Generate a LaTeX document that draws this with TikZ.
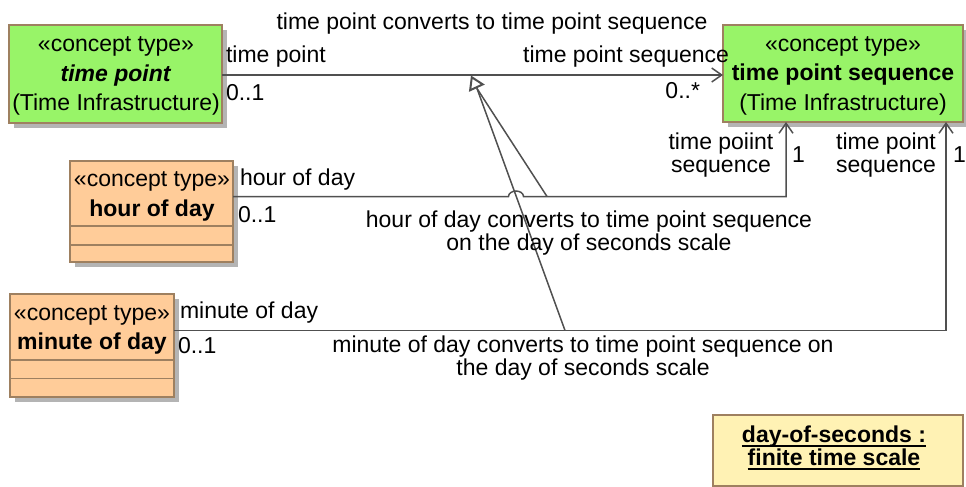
\documentclass[tikz,border=0pt]{standalone}
\usepackage{fontspec}
\setmainfont{Liberation Sans}
\usetikzlibrary{arrows.meta,shadows}
\definecolor{cgreen}{RGB}{152,244,104}
\definecolor{corange}{RGB}{255,204,153}
\definecolor{cyellow}{RGB}{255,242,180}
\definecolor{cborder}{RGB}{158,128,96}
\definecolor{cline}{RGB}{80,80,80}
\definecolor{cshadow}{RGB}{180,180,180}
\newcommand\myul[1]{\setbox0\hbox{#1}\rlap{\rule[-4.5pt]{\wd0}{2pt}}\box0}
\begin{document}
\begin{tikzpicture}[x=1pt,y=-1pt,
  every node/.style={font=\fontsize{23}{29.5}\selectfont, inner sep=0pt, outer sep=0pt, text=black},
  cbox/.style={draw=cborder, line width=1.5pt, rectangle, anchor=north west,
    drop shadow={shadow xshift=5pt, shadow yshift=-5pt, fill=cshadow, opacity=1}},
  lbl/.style={font=\fontsize{23}{23}\selectfont},
  assoc/.style={draw=cline, line width=1.5pt},
  nav/.style={-{Straight Barb[length=10pt,width=14pt,line width=1.5pt]}},
  gen/.style={draw=cline, line width=1.5pt, -{Triangle[open,length=14pt,width=17pt,line width=2pt]}},
  sep/.style={draw=cborder, line width=1.5pt}
]
\useasboundingbox (0,0) rectangle (966,487);

% classes
\node[cbox, fill=cgreen, minimum width=213, minimum height=98] (tp) at (9,25) {};
\node[align=center] (tpt) at (116,76) {«concept type»\\\textbf{\textit{time point}}\\(Time Infrastructure)};
\node[cbox, fill=cgreen, minimum width=240, minimum height=97] (tps) at (723,25) {};
\node[align=center] (tpst) at (843,75.5) {«concept type»\\\textbf{time point sequence}\\(Time Infrastructure)};

\node[cbox, fill=corange, minimum width=163, minimum height=101] (hod) at (70,161) {};
\node[align=center] (hodt) at (152,196.5) {«concept type»\\\textbf{hour of day}};
\draw[sep] ([yshift=-65pt]hod.north west) -- ([yshift=-65pt]hod.north east);
\draw[sep] ([yshift=-84pt]hod.north west) -- ([yshift=-84pt]hod.north east);

\node[cbox, fill=corange, minimum width=164, minimum height=103] (mod) at (10,294) {};
\node[align=center] (modt) at (92,330) {«concept type»\\\textbf{minute of day}};
\draw[sep] ([yshift=-66pt]mod.north west) -- ([yshift=-66pt]mod.north east);
\draw[sep] ([yshift=-84.5pt]mod.north west) -- ([yshift=-84.5pt]mod.north east);

\node[draw=cborder, fill=cyellow, line width=1.5pt, minimum width=250, minimum height=71, anchor=north west] (dos) at (713,415) {};
\node[align=center, font=\fontsize{23}{22.5}\selectfont\bfseries] (dost) at (834,448)
  {\myul{day-of-seconds :}\\\myul{finite time scale}};

% associations
\draw[assoc, nav] ([yshift=-50pt]tp.north east) -- ([yshift=-50pt]tps.north west);
\draw[assoc, nav] ([yshift=-35.5pt]hod.north east) -- (508.5,196.5)
  arc[start angle=180, end angle=360, x radius=7.5, y radius=5.5]
  -| ([xshift=63pt]tps.south west);
\draw[assoc, nav] ([yshift=-36.5pt]mod.north east) -| ([xshift=-17pt]tps.south east);

% generalization
\coordinate (gt) at (471,75.5);
\coordinate (gb) at (477,88.5);
\coordinate (ha) at (547,196.5);
\coordinate (ma) at (565,330.5);
\draw[gen] (gb) -- (gt);
\draw[assoc] (gb) -- (ha);
\draw[assoc] (gb) -- (ma);

% labels
\node[lbl, anchor=base] (l0) at (492,30) {time point converts to time point sequence};
\node[lbl, anchor=base west] (l1) at (226,63) {time point};
\node[lbl, anchor=base west] (l2) at (226,100) {0..1};
\node[lbl, anchor=base east] (l3) at (729,63) {time point sequence};
\node[lbl, anchor=base east] (l4) at (700,99) {0..*};
\node[lbl, align=center] (l5) at (721,155.5) {time poiint\\sequence};
\node[lbl, anchor=base west] (l6) at (792,162) {1};
\node[lbl, align=center] (l7) at (886,155.5) {time point\\sequence};
\node[lbl, anchor=base west] (l8) at (953,162) {1};
\node[lbl, anchor=base west] (l9) at (240,185) {hour of day};
\node[lbl, anchor=base west] (l10) at (238,222) {0..1};
\node[lbl, align=center] (l11) at (589,233.5) {hour of day converts to time point sequence\\on the day of seconds scale};
\node[lbl, anchor=base west] (l12) at (180,318) {minute of day};
\node[lbl, anchor=base west] (l13) at (178,353) {0..1};
\node[lbl, align=center] (l14) at (583,358) {minute of day converts to time point sequence on\\the day of seconds scale};
\end{tikzpicture}
\end{document}
